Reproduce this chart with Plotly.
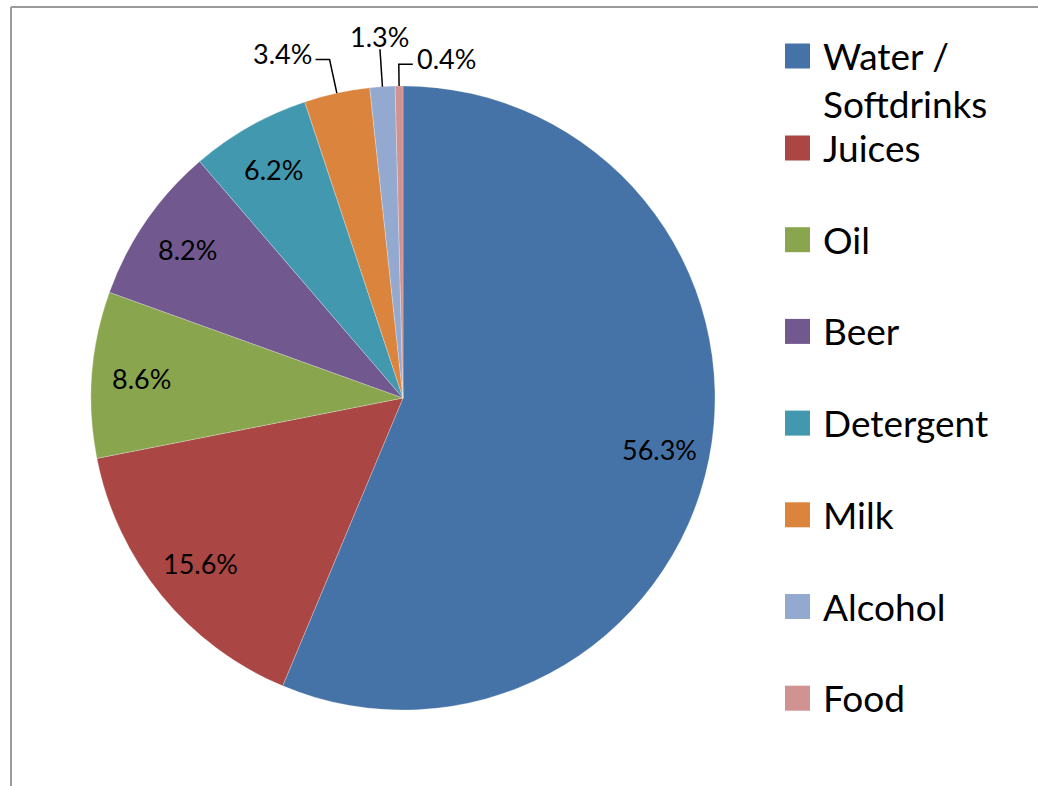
import math
import plotly.graph_objects as go

# ---- data ----
categories = ["Water / Softdrinks", "Juices", "Oil", "Beer", "Detergent", "Milk", "Alcohol", "Food"]
shares = [56.3, 15.6, 8.6, 8.2, 6.2, 3.4, 1.3, 0.4]
colors = ["#4572A7", "#AA4643", "#89A54E", "#71588F", "#4198AF", "#DB843D", "#93A9CF", "#D19392"]
label_text = ["56.3%", "15.6%", "8.6%", "8.2%", "6.2%", "3.4%", "1.3%", "0.4%"]
# label placement style: inside, or outside with leader going left / up / right
label_mode = ["in", "in", "in", "in", "in", "left", "up", "right"]

W, H = 1038, 786
CX, CY, R = 403, 398, 312          # pie centre / radius in pixels
FONT = "Lato"
LBL_SIZE = 27

def px(x):
    return x / W

def py(y):
    return 1 - y / H

fig = go.Figure(go.Pie(
    labels=categories,
    values=shares,
    marker=dict(colors=colors, line=dict(width=0.5, color="rgba(255,255,255,0.5)")),
    sort=False,
    direction="clockwise",
    rotation=0,
    textinfo="none",
    hoverinfo="label+percent",
    showlegend=False,
    domain=dict(x=[px(CX - R), px(CX + R)], y=[py(CY + R), py(CY - R)]),
))

annotations = []
shapes = []
elbow = {"left": 1.11, "up": 1.12, "right": 1.07}

# data labels, positioned from the slice mid-angles
total = sum(shares)
cum = 0.0
for v, t, mode in zip(shares, label_text, label_mode):
    mid = (cum + v / 2) / total * 2 * math.pi
    cum += v
    sx, sy = math.sin(mid), -math.cos(mid)
    lf = dict(family=FONT, size=LBL_SIZE, color="black")
    if mode == "in":
        f = 0.84
        annotations.append(dict(x=px(CX + R * f * sx), y=py(CY + R * f * sy), xref="paper", yref="paper",
                                text=t, showarrow=False, font=lf, xanchor="center", yanchor="middle"))
    else:
        x0, y0 = CX + R * sx, CY + R * sy
        e = elbow[mode]
        x1, y1 = CX + R * e * sx, CY + R * e * sy
        if mode == "left":
            x2, y2 = x1 - 14, y1
            annotations.append(dict(x=px(x2 - 2), y=py(y2 - 6), xref="paper", yref="paper", text=t,
                                    showarrow=False, font=lf, xanchor="right", yanchor="middle"))
        elif mode == "right":
            x2, y2 = x1 + 14, y1
            annotations.append(dict(x=px(x2 + 2), y=py(y2 - 6), xref="paper", yref="paper", text=t,
                                    showarrow=False, font=lf, xanchor="left", yanchor="middle"))
        else:
            x2, y2 = x1, y1
            annotations.append(dict(x=px(x2), y=py(y2 - 13), xref="paper", yref="paper", text=t,
                                    showarrow=False, font=lf, xanchor="center", yanchor="middle"))
        shapes.append(dict(type="path", xref="paper", yref="paper",
                           path=f"M {px(x0)} {py(y0)} L {px(x1)} {py(y1)} L {px(x2)} {py(y2)}",
                           line=dict(color="black", width=1.5)))

# manual legend
LX, SQ = 785, 25
first_y = 56
row_y0, row_step = 148, 91.7
for i, (name, c) in enumerate(zip(categories, colors)):
    yc = first_y if i == 0 else row_y0 + (i - 1) * row_step
    shapes.append(dict(type="rect", xref="paper", yref="paper",
                       x0=px(LX), x1=px(LX + SQ), y0=py(yc + SQ / 2), y1=py(yc - SQ / 2),
                       fillcolor=c, line=dict(width=0)))
    txt = name.replace(" / ", " /<br>")
    annotations.append(dict(x=px(821), y=py(yc - 25), xref="paper", yref="paper", text=txt,
                            showarrow=False, align="left", xanchor="left", yanchor="top",
                            font=dict(family=FONT, size=37, color="black")))

# chart frame (top and left edges)
shapes.append(dict(type="line", xref="paper", yref="paper", x0=px(11), x1=1, y0=py(7), y1=py(7),
                   line=dict(color="#9A9A9A", width=2)))
shapes.append(dict(type="line", xref="paper", yref="paper", x0=px(11), x1=px(11), y0=py(7), y1=0,
                   line=dict(color="#9A9A9A", width=2)))

fig.update_layout(
    width=W, height=H,
    margin=dict(l=0, r=0, t=0, b=0),
    paper_bgcolor="white",
    plot_bgcolor="white",
    annotations=annotations,
    shapes=shapes,
)

fig.write_html("out.html", config={"displayModeBar": False},
               post_script="document.body.style.margin='0';")
